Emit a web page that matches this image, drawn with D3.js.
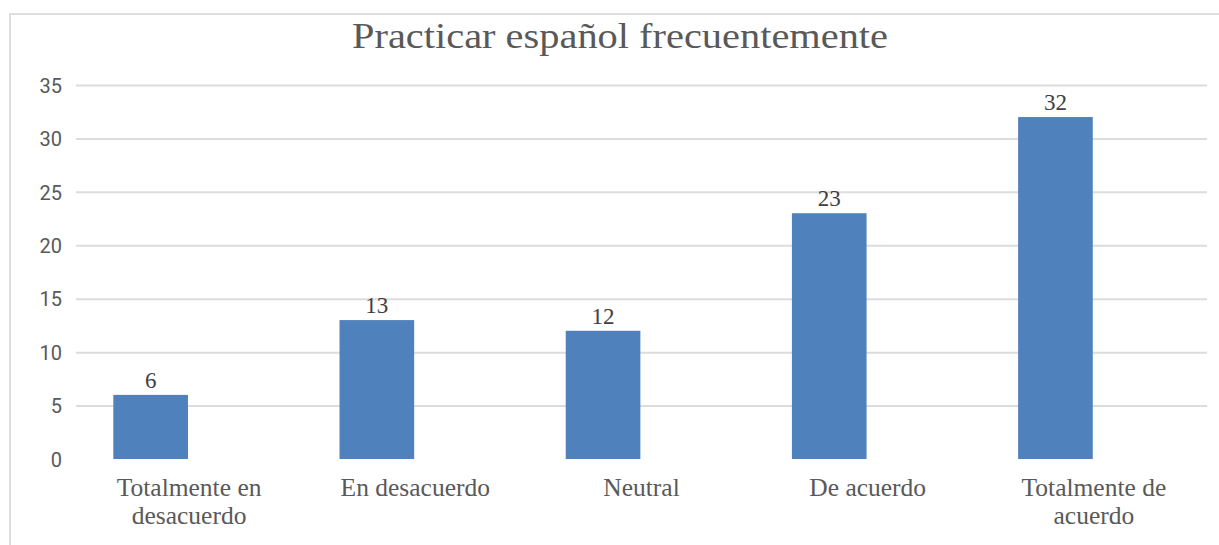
<!DOCTYPE html>
<html>
<head>
<meta charset="utf-8">
<script src="https://cdn.jsdelivr.net/npm/d3@7"></script>
<style>
  body { margin: 0; background: #fff; }
  svg { display: block; }
</style>
</head>
<body>
<div id="chart"></div>
<script>
var categories = [['Totalmente en', 'desacuerdo'], ['En desacuerdo'], ['Neutral'], ['De acuerdo'], ['Totalmente de', 'acuerdo']];
var counts = [6, 13, 12, 23, 32];
var yTicks = [0, 5, 10, 15, 20, 25, 30, 35];
var title = 'Practicar español frecuentemente';

var chartW = 1219, chartH = 545;
var plotLeft = 76, plotRight = 1207, plotTop = 85, plotBottom = 459;
var textColor = '#595959';
var serif = "'Liberation Serif', 'DejaVu Serif', serif";

var svg = d3.select('#chart').append('svg')
  .attr('width', chartW).attr('height', chartH);

// chart border (only top and left edges are in frame)
svg.append('path')
  .attr('d', 'M10,545 V14 H1219')
  .attr('fill', 'none')
  .attr('stroke', '#dedede')
  .attr('stroke-width', 2);

svg.append('text')
  .attr('x', 620).attr('y', 48)
  .attr('text-anchor', 'middle')
  .attr('font-family', serif)
  .attr('font-size', 35)
  .attr('fill', textColor)
  .attr('textLength', 536)
  .attr('lengthAdjust', 'spacingAndGlyphs')
  .text(title);

var keys = categories.map(function (c) { return c.join(' '); });
var x = d3.scaleBand().domain(keys).range([plotLeft, plotRight]);
var y = d3.scaleLinear().domain([0, 35]).range([plotBottom, plotTop]);

// gridlines + tick labels
var yAxis = svg.append('g')
  .attr('transform', 'translate(' + plotLeft + ',0)')
  .call(d3.axisLeft(y).tickValues(yTicks).tickSize(-(plotRight - plotLeft)).tickPadding(14));
yAxis.select('.domain').remove();
yAxis.selectAll('.tick line')
  .attr('stroke', '#dcdcdc')
  .attr('stroke-width', 2)
  .attr('display', function (d) { return d === 0 ? 'none' : null; });
yAxis.selectAll('.tick text')
  .attr('font-family', 'Roboto, sans-serif')
  .attr('font-size', 20)
  .attr('fill', textColor)
  .attr('dy', '0.36em');

// bars sit left of their band centre in the original
var barW = x.bandwidth() * 0.33;
var barX = function (k) { return x(k) + x.bandwidth() * 0.165; };

svg.append('g').selectAll('rect')
  .data(keys)
  .join('rect')
  .attr('x', function (k) { return barX(k); })
  .attr('y', function (k, i) { return y(counts[i]); })
  .attr('width', barW)
  .attr('height', function (k, i) { return plotBottom - y(counts[i]); })
  .attr('fill', '#4f81bd');

svg.append('g').selectAll('text')
  .data(keys)
  .join('text')
  .attr('x', function (k) { return barX(k) + barW / 2; })
  .attr('y', function (k, i) { return y(counts[i]) - 7; })
  .attr('text-anchor', 'middle')
  .attr('font-family', serif)
  .attr('font-size', 23)
  .attr('fill', '#404040')
  .text(function (k, i) { return counts[i]; });

// category labels
var catLabels = svg.append('g').selectAll('text')
  .data(categories)
  .join('text')
  .attr('x', function (c, i) { return x(keys[i]) + x.bandwidth() / 2; })
  .attr('y', 496)
  .attr('text-anchor', 'middle')
  .attr('font-family', serif)
  .attr('font-size', 25.5)
  .attr('fill', textColor);
catLabels.selectAll('tspan')
  .data(function (c) { return c; })
  .join('tspan')
  .attr('x', function () { return d3.select(this.parentNode).attr('x'); })
  .attr('dy', function (d, j) { return j === 0 ? 0 : 28; })
  .text(function (d) { return d; });
</script>
</body>
</html>
